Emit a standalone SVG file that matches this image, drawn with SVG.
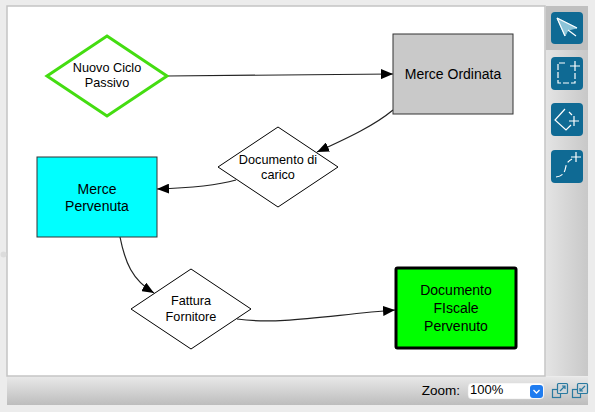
<svg xmlns="http://www.w3.org/2000/svg" width="595" height="412" viewBox="0 0 595 412">
<defs>
<linearGradient id="barH" x1="0" y1="0" x2="0" y2="1"><stop offset="0" stop-color="#e8e8e8"/><stop offset="1" stop-color="#bdbdbd"/></linearGradient>
<linearGradient id="barV" x1="0" y1="0" x2="1" y2="0"><stop offset="0" stop-color="#e4e4e4"/><stop offset="1" stop-color="#c8c8c8"/></linearGradient>
<marker id="arr" viewBox="0 0 12 10" refX="12" refY="5" markerWidth="12" markerHeight="10" markerUnits="userSpaceOnUse" orient="auto"><path d="M0 0L12 5L0 10Z" fill="#000"/></marker>
</defs>
<style>
text{font-family:"Liberation Sans",Arial,sans-serif;fill:#000;text-anchor:middle}
.s{font-size:12.7px}.m{font-size:14px}
.c{fill:none;stroke:#222;stroke-width:1.2;marker-end:url(#arr)}
.btn{fill:#0f6a94}
.ic{fill:none;stroke:#fff;stroke-width:1.2}
.d{stroke-dasharray:7 3}
</style>
<rect width="595" height="412" fill="#ececec"/>
<rect x="7" y="6" width="538" height="370" fill="#fff" stroke="#c4c4c4" stroke-width="1.5"/>
<circle cx="3.500" cy="254.500" r="3" fill="#dcdcdc"/>
<rect x="546" y="6" width="42" height="370" fill="url(#barV)"/>
<rect x="546" y="6" width="42" height="44" fill="#c0c0c0"/>
<rect x="7" y="377" width="581" height="28" fill="url(#barH)"/>
<g id="connectors">
<path class="c" d="M167 76L393 74"/>
<path class="c" d="M393 110C375 125 350 137 317 152"/>
<path class="c" d="M236 180C215 186 190 188 157 189"/>
<path class="c" d="M120 237C125 262 132 280 154 293"/>
<path class="c" d="M237 319C280 325 330 315 395 310"/>
</g>
<g id="n1"><polygon points="107,36 167,76 107,116 47,76" fill="#fff" stroke="#44dd11" stroke-width="3"/><text class="s" x="107" y="72">Nuovo Ciclo</text><text class="s" x="107" y="87">Passivo</text></g>
<g id="n2"><rect x="393" y="34" width="120" height="80" fill="#c9c9c9" stroke="#333" stroke-width="1"/><text class="m" x="453" y="79">Merce Ordinata</text></g>
<g id="n3"><polygon points="278,127 338,167 278,207 218,167" fill="#fff" stroke="#000"/><text class="s" x="278" y="164">Documento di</text><text class="s" x="278" y="179">carico</text></g>
<g id="n4"><rect x="37" y="157" width="120" height="80" fill="#00ffff" stroke="#333" stroke-width="1"/><text class="m" x="97" y="194">Merce</text><text class="m" x="97" y="211">Pervenuta</text></g>
<g id="n5"><polygon points="191,269 251,309 191,349 131,309" fill="#fff" stroke="#000"/><text class="s" x="191" y="305">Fattura</text><text class="s" x="191" y="321">Fornitore</text></g>
<g id="n6"><rect x="396" y="268" width="120" height="80" fill="#00ff00" stroke="#000" stroke-width="3" rx="1.500"/><text class="m" x="456" y="295">Documento</text><text class="m" x="456" y="313">FIscale</text><text class="m" x="456" y="331">Pervenuto</text></g>
<g id="tool-select"><rect class="btn" x="551" y="12" width="32" height="32" rx="4"/><polygon points="557,18 577,28 568,30 565,36" fill="#8cc4d8" stroke="#8cc4d8"/><path class="ic" d="M568 30L576 36M557 18L577 28M557 18L565 36"/></g>
<g id="tool-rect"><rect class="btn" x="551" y="57" width="32" height="33" rx="4"/><path class="ic" d="M565 63H558V83H575V73" stroke-dasharray="6 2"/><path class="ic" d="M570 66H580M575 61V71"/></g>
<g id="tool-diamond"><rect class="btn" x="551" y="103" width="32" height="33" rx="4"/><path class="ic" d="M565 109L555 120L566 130L571 125M569 112L572 115"/><path class="ic" d="M569 121H579M574 116V126"/></g>
<g id="tool-curve"><rect class="btn" x="551" y="150" width="32" height="33" rx="4"/><path class="ic" d="M556 177C564 176 565 171 566 166C567 162 570 160 572 159" stroke-dasharray="7 3"/><path class="ic" d="M571 157H581M576 152V162"/></g>
<text x="441" y="395" style="font-size:13.5px;text-anchor:middle" fill="#111">Zoom:</text>
<rect x="468" y="383" width="76" height="16" rx="4" fill="#fff" stroke="#ddd" stroke-width=".5"/>
<text x="470" y="394" style="font-size:13px;text-anchor:start">100%</text>
<rect x="530" y="385" width="13" height="13" rx="3" fill="#1f7cf0"/>
<path d="M533.500 390L536.500 393L539.500 390" fill="none" stroke="#fff" stroke-width="1.3"/>
<g id="zoom-in" fill="none" stroke="#2a7aa0" stroke-width="1.2"><rect x="552.500" y="389.500" width="8" height="8"/><rect x="557.500" y="383.500" width="10" height="10" rx="1" fill="#cfd6da"/><path d="M560 391L565 386M562 386H565V389"/></g>
<g id="zoom-out" fill="none" stroke="#2a7aa0" stroke-width="1.2"><rect x="572.500" y="389.500" width="8" height="8"/><rect x="577.500" y="383.500" width="10" height="10" rx="1" fill="#cfd6da"/><path d="M585 386L580 391M580 388V391H583"/></g>
</svg>
